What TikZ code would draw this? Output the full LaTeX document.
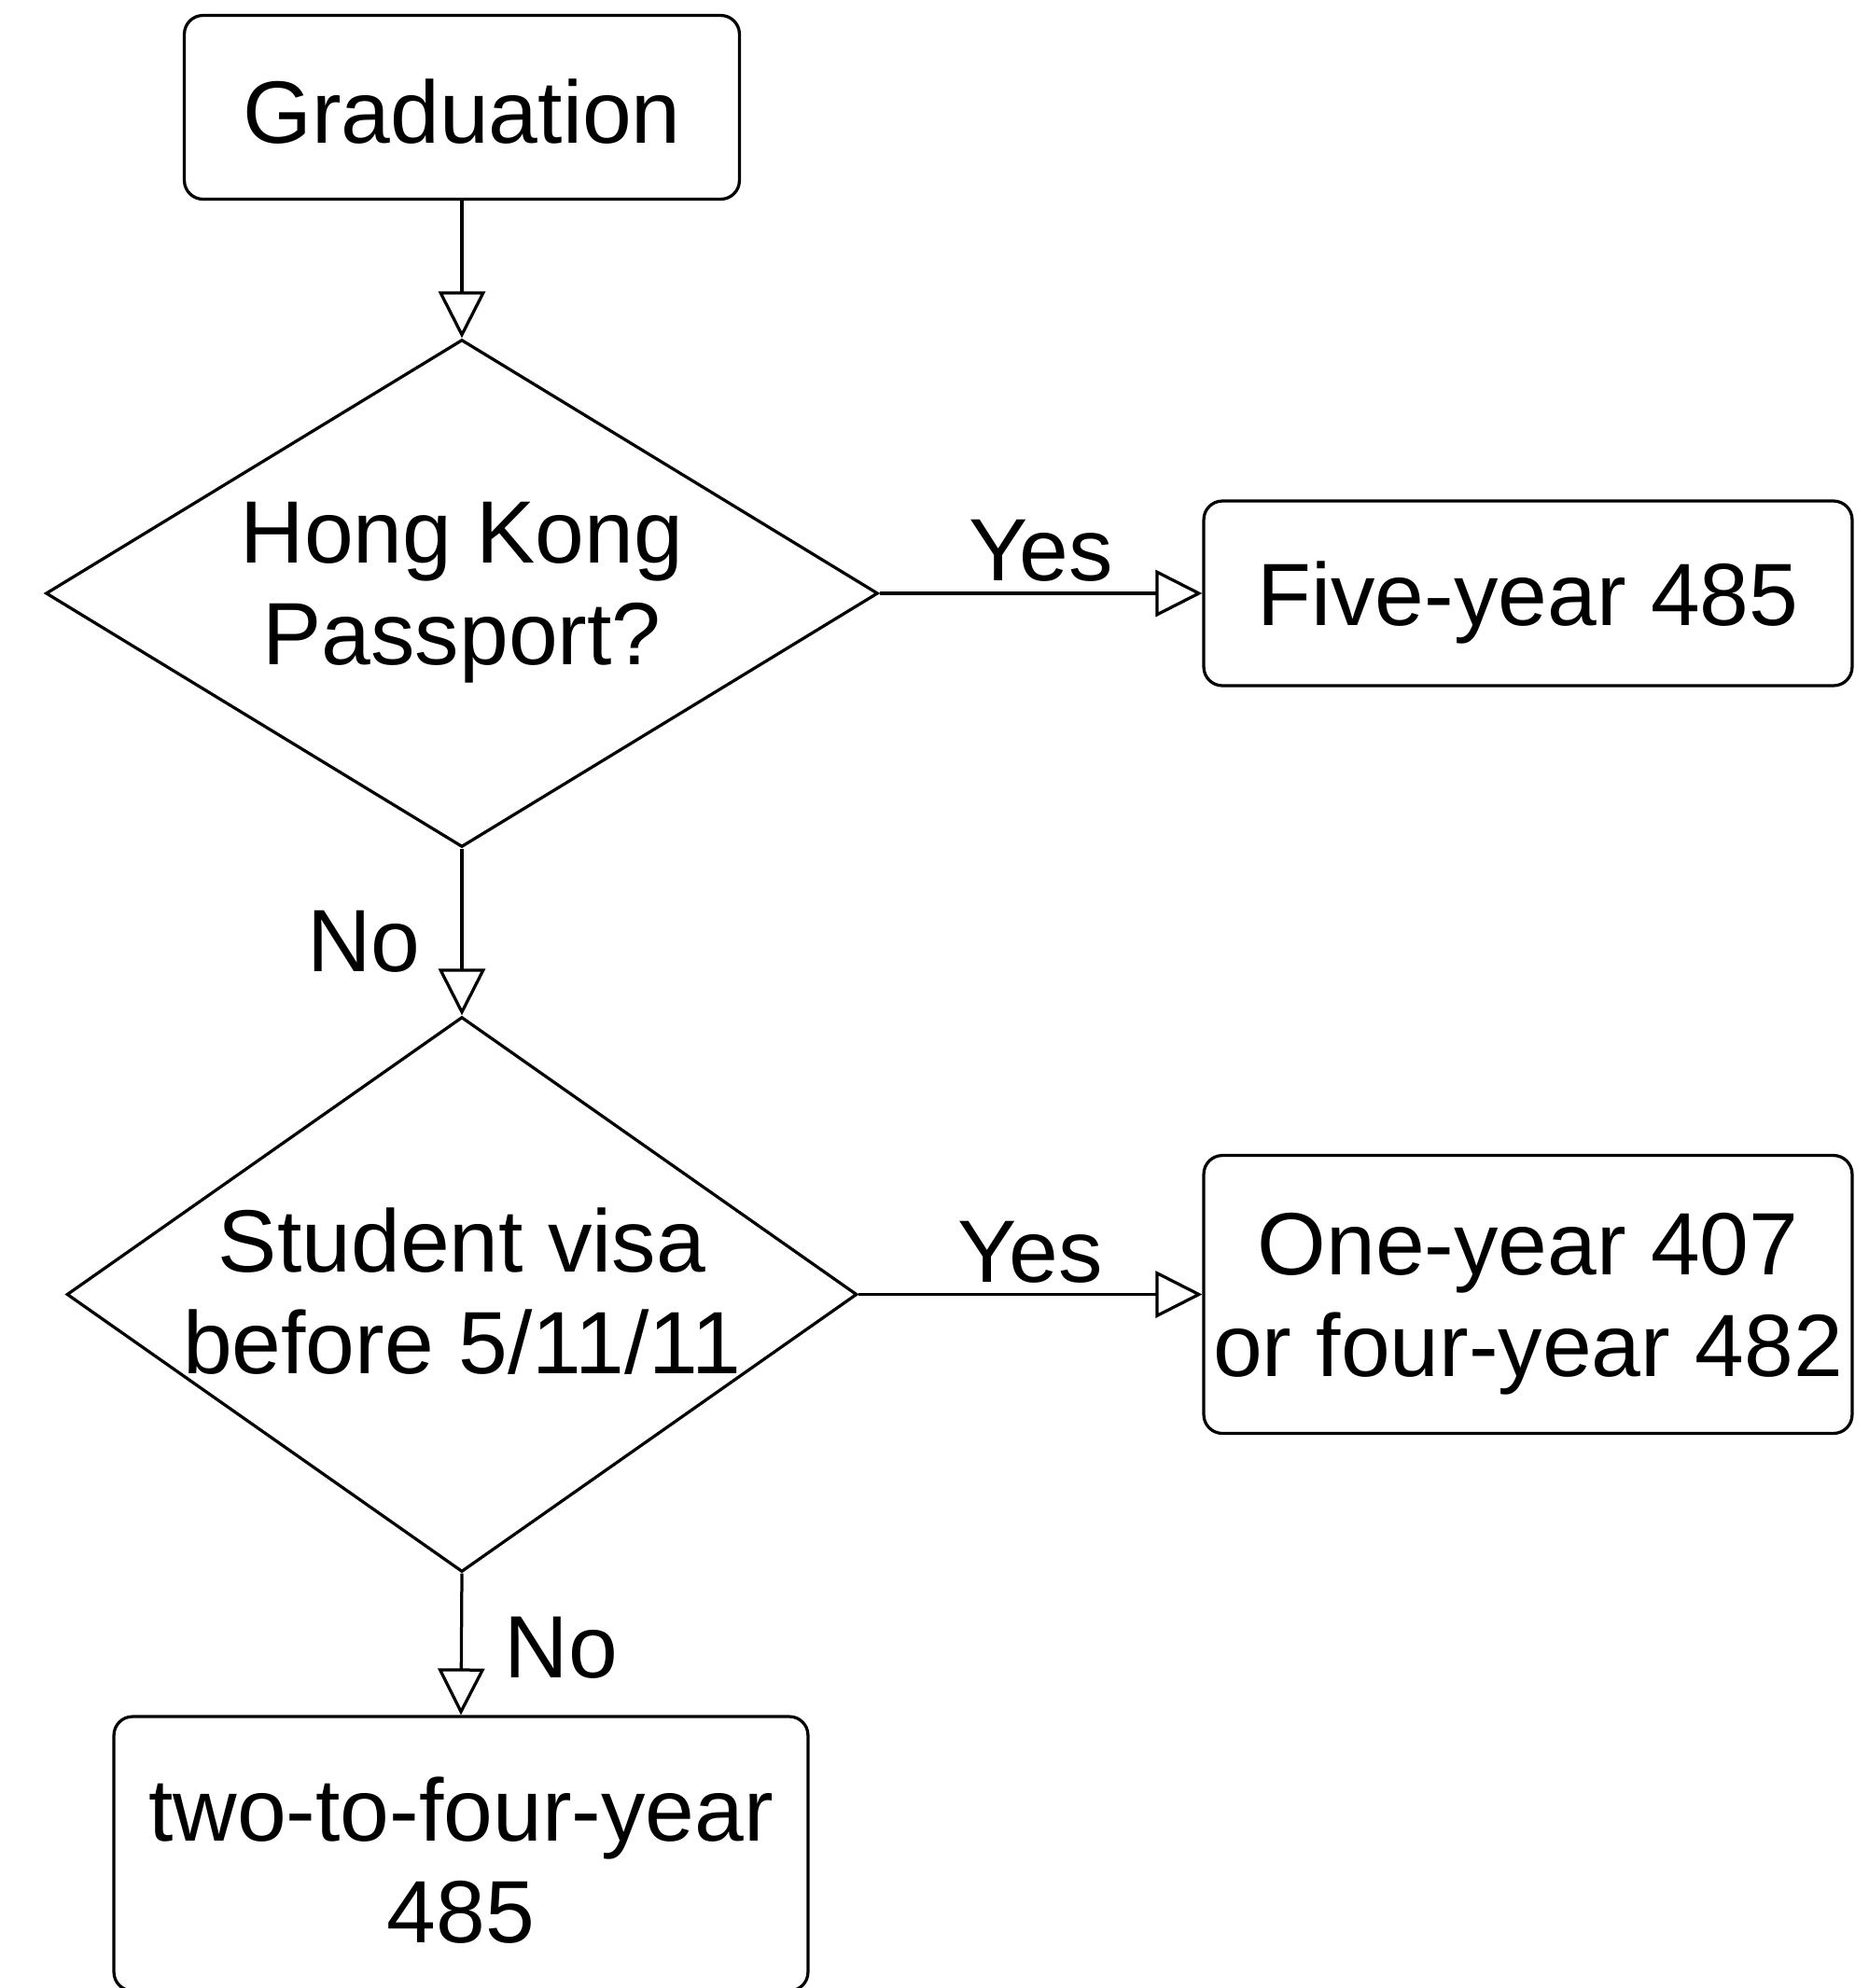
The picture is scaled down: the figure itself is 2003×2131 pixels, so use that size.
\documentclass[tikz,border=0pt]{standalone}
\usepackage{fontspec}
\setmainfont{Liberation Sans}
\usetikzlibrary{shapes.geometric,arrows.meta,calc}
\begin{document}
\begin{tikzpicture}[x=0.02cm,y=-0.02cm, line width=0.065cm,
  font=\fontsize{54}{62}\selectfont,
  box/.style={draw, rounded corners=0.4cm, inner sep=0pt},
  decision/.style={draw, diamond, inner sep=0pt},
  lt/.style={align=center, inner sep=0pt},
  arr/.style={-{Triangle[open,length=1cm,width=1cm]}},
  lbl/.style={inner sep=0pt}]
\useasboundingbox (0,0) rectangle (2003,2131);
\node[box, minimum width=11.9cm, minimum height=3.94cm,
  label={[lt, yshift=-0.1cm]center:Graduation}] (grad) at (495,115) {};
\node[decision, minimum width=17.84cm, minimum height=10.88cm,
  label={[lt, yshift=0.02cm]center:Hong Kong\\Passport?}] (d1) at (495,636) {};
\node[box, minimum width=13.9cm, minimum height=3.96cm,
  label={[lt, yshift=-0.2cm]center:Five-year 485}] (five) at (1637.5,636) {};
\node[decision, minimum width=16.94cm, minimum height=11.9cm,
  label={[lt, yshift=0.06cm]center:Student visa\\before 5/11/11}] (d2) at (495,1387.5) {};
\node[box, minimum width=13.9cm, minimum height=5.96cm,
  label={[lt, yshift=-0.2cm]center:One-year 407\\or four-year 482}] (one) at (1637.5,1387.5) {};
\node[box, minimum width=14.88cm, minimum height=5.88cm,
  label={[lt, yshift=-0.14cm]center:two-to-four-year\\485}] (two) at (494,1987) {};
\draw[arr] (grad.south) -- (d1.north);
\draw[arr] (d1.east) -- node[midway, above=0.22cm, lbl] (y1) {Yes} (five.west);
\draw[arr] (d1.south) -- (d2.north);
\node[lbl, anchor=base east] (n1) at ($(d1.south)+(-43,132)$) {No};
\draw[arr] (d2.east) -- node[midway, above=0.2cm, lbl] (y2) {Yes} (one.west);
\draw[arr] (d2.south) -- (two.north);
\node[lbl, anchor=base west] (n2) at ($(d2.south)+(44,112)$) {No};
\end{tikzpicture}
\end{document}
